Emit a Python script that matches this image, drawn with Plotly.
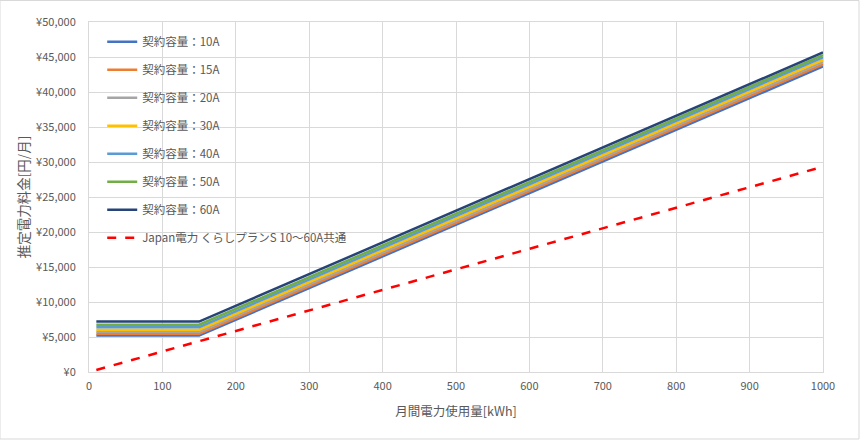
import plotly.graph_objects as go

usage = [10, 150, 1000]
names = ["契約容量：10A", "契約容量：15A", "契約容量：20A", "契約容量：30A",
         "契約容量：40A", "契約容量：50A", "契約容量：60A"]
charges = [
    [5200, 5200, 43650],
    [5450, 5450, 43950],
    [5750, 5750, 44250],
    [6050, 6050, 44600],
    [6400, 6400, 44950],
    [6750, 6750, 45250],
    [7200, 7200, 45650],
]
japan_name = "Japan電力 くらしプランS 10～60A共通"
japan_usage = [10, 150, 1000]
japan_charge = [290, 4400, 29330]

colors = ["#4472C4", "#ED7D31", "#A5A5A5", "#FFC000", "#5B9BD5", "#70AD47", "#264478"]

fig = go.Figure()
for i, (n, c) in enumerate(zip(names, charges)):
    fig.add_trace(go.Scatter(x=usage, y=c, mode="lines", name=n, legendgroup=str(i),
                             line=dict(color=colors[i], width=2.5)))
fig.add_trace(go.Scatter(x=japan_usage, y=japan_charge, mode="lines", name=japan_name,
                         legendgroup="j", line=dict(color="#FF0000", width=2.5, dash="dash")))

font = "Noto Sans CJK JP"
fig.update_layout(
    width=860, height=440,
    margin=dict(l=89, r=37, t=22, b=68),
    paper_bgcolor="white", plot_bgcolor="white",
    font=dict(family=font, size=11, color="#595959"),
    showlegend=True,
    legend=dict(x=0.018, y=0.985, xanchor="left", yanchor="top", bgcolor="rgba(0,0,0,0)",
                tracegroupgap=9, font=dict(size=11.5, color="#595959")),
    xaxis=dict(range=[0, 1000], dtick=100, tick0=0, showgrid=True, gridcolor="#d9d9d9",
               showline=True, linecolor="#d9d9d9", mirror=True, zeroline=False,
               ticks="", ticklabelstandoff=4,
               title=dict(text="月間電力使用量[kWh]", font=dict(size=12.5, color="#595959"), standoff=15)),
    yaxis=dict(range=[0, 50000], dtick=5000, tickprefix="¥", tickformat=",", showgrid=True,
               gridcolor="#d9d9d9", showline=True, linecolor="#d9d9d9", mirror=True, zeroline=False,
               ticks="", ticklabelstandoff=10,
               title=dict(text="推定電力料金[円/月]", font=dict(size=13.5, color="#595959"), standoff=3)),
    shapes=[dict(type="rect", xref="paper", yref="paper", x0=-89/734, x1=1+36/734,
                 y0=-67/350, y1=1+21.5/350, line=dict(color="#d9d9d9", width=1))],
)
fig.write_html("out.html")
